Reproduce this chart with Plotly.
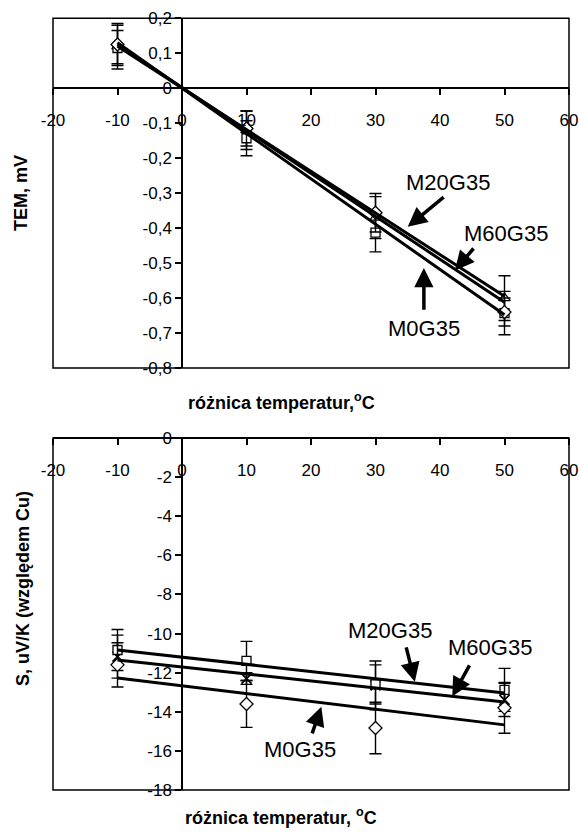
import plotly.graph_objects as go

# ---------------- data ----------------
x_temp = [-10, 10, 30, 50]

# top chart: TEM, mV
tem_m0 = [0.125, -0.115, -0.356, -0.640]
tem_m20 = [0.115, -0.143, -0.413, -0.643]
tem_m60 = [0.120, -0.120, -0.370, -0.600]
tem_err_m0 = [0.055, 0.050, 0.055, 0.040]
tem_err_m20 = [0.050, 0.050, 0.055, 0.062]
tem_err_m60 = [0.065, 0.055, 0.060, 0.064]

# bottom chart: S, uV/K
s_m0 = [-11.60, -13.60, -14.83, -13.80]
s_m20 = [-10.84, -11.40, -12.60, -12.88]
s_m60 = [-11.18, -12.30, -12.65, -13.39]
s_err_m0 = [1.13, 1.20, 1.32, 1.30]
s_err_m20 = [1.05, 1.00, 1.00, 1.10]
s_err_m60 = [1.10, 0.30, 1.25, 0.85]

# trend lines (values at x = -10 and x = 50)
trend_x = [-10, 50]
tem_fit_m0 = [0.130, -0.648]
tem_fit_m20 = [0.120, -0.595]
tem_fit_m60 = [0.125, -0.612]
s_fit_m0 = [-12.27, -14.67]
s_fit_m20 = [-10.84, -13.04]
s_fit_m60 = [-11.35, -13.50]

x_ticks = [-20, -10, 0, 10, 20, 30, 40, 50, 60]
x_ticktext = ["-20", "-10", "0", "10", "20", "30", "40", "50", "60"]
tem_ticks = [0.2, 0.1, 0, -0.1, -0.2, -0.3, -0.4, -0.5, -0.6, -0.7, -0.8]
tem_ticktext = ["0,2", "0,1", "0", "-0,1", "-0,2", "-0,3", "-0,4", "-0,5", "-0,6", "-0,7", "-0,8"]
s_ticks = [0, -2, -4, -6, -8, -10, -12, -14, -16, -18]
s_ticktext = ["0", "-2", "-4", "-6", "-8", "-10", "-12", "-14", "-16", "-18"]

x_title_top = "różnica temperatur,<sup>o</sup>C"
x_title_bot = "różnica temperatur, <sup>o</sup>C"
y_title_top = "TEM, mV"
y_title_bot = "S, uV/K (względem Cu)"

# ---------------- layout geometry ----------------
W, H = 579, 832
xd = [53 / W, 569 / W]
yd_top = [1 - 368 / H, 1 - 18.3 / H]
yd_bot = [1 - 790 / H, 1 - 438 / H]

FONT = "Liberation Sans, Arial, sans-serif"
TICKF = dict(family=FONT, size=17, color="black")

fig = go.Figure()


def add_series(xa, ya, yvals, errs, symbol, size=10, lw=1.3):
    fig.add_trace(go.Scatter(
        x=x_temp, y=yvals, mode="markers", xaxis=xa, yaxis=ya,
        marker=dict(symbol=symbol, size=size, color="white",
                    line=dict(color="black", width=lw)),
        error_y=dict(type="data", array=errs, visible=True,
                     color="black", thickness=1.4, width=6),
        showlegend=False, hoverinfo="skip"))


def add_fit(xa, ya, vals):
    fig.add_trace(go.Scatter(
        x=trend_x, y=vals, mode="lines", xaxis=xa, yaxis=ya,
        line=dict(color="black", width=3),
        showlegend=False, hoverinfo="skip"))


# top chart
add_series("x", "y", tem_m60, tem_err_m60, "triangle-up")
add_series("x", "y", tem_m20, tem_err_m20, "square", 9)
add_series("x", "y", tem_m0, tem_err_m0, "diamond")
add_fit("x", "y", tem_fit_m20)
add_fit("x", "y", tem_fit_m60)
add_fit("x", "y", tem_fit_m0)

# bottom chart
add_series("x2", "y2", s_m60, s_err_m60, "x-thin", 10, 1.8)
add_series("x2", "y2", s_m20, s_err_m20, "square", 9)
add_series("x2", "y2", s_m0, s_err_m0, "diamond")
add_fit("x2", "y2", s_fit_m20)
add_fit("x2", "y2", s_fit_m60)
add_fit("x2", "y2", s_fit_m0)

# axis crossing positions (paper fractions)
pos_x0 = xd[0] + (0 - (-20)) / 80 * (xd[1] - xd[0])
pos_top_y0 = yd_top[0] + (0 - (-0.8)) / 1.0 * (yd_top[1] - yd_top[0])
pos_bot_y0 = yd_bot[1]

common_x = dict(range=[-20, 60], tickvals=x_ticks, ticktext=x_ticktext,
                ticks="outside", ticklen=6,
                tickwidth=1.5, tickcolor="black", showline=True, linecolor="black",
                linewidth=1.5, showgrid=False, zeroline=False, tickfont=TICKF,
                ticklabelstandoff=11, domain=xd, anchor="free", side="bottom",
                automargin=False)
common_y = dict(ticks="outside", ticklen=6, tickwidth=1.5, tickcolor="black",
                showline=True, linecolor="black", linewidth=1.5, showgrid=False,
                zeroline=False, tickfont=TICKF, anchor="free", side="left",
                automargin=False)

fig.update_layout(
    template="none",
    width=W, height=H, margin=dict(l=0, r=0, t=0, b=0, pad=0),
    plot_bgcolor="white", paper_bgcolor="white",
    xaxis=dict(**common_x, position=pos_top_y0),
    yaxis=dict(**common_y, range=[-0.8, 0.2], tickvals=tem_ticks,
               ticktext=tem_ticktext, domain=yd_top, position=pos_x0),
    xaxis2=dict(**common_x, position=pos_bot_y0),
    yaxis2=dict(**common_y, range=[-18, 0], tickvals=s_ticks,
                ticktext=s_ticktext, domain=yd_bot, position=pos_x0),
)

# frames
for xr, yr in (("x", "y"), ("x2", "y2")):
    fig.add_shape(type="rect", xref=f"{xr} domain", yref=f"{yr} domain",
                  x0=0, x1=1, y0=0, y1=1, line=dict(color="black", width=1.5),
                  layer="above")

ANNF = dict(family=FONT, size=22, color="black")
TITF = dict(family=FONT, size=18, color="black")

# axis titles
title_specs = [
    (x_title_top, 281, 401, 0),
    (x_title_bot, 281, 816, 0),
    (y_title_top, 21, 193, -90),
    (y_title_bot, 23, 589, -90),
]
for txt, px, py, ang in title_specs:
    fig.add_annotation(text=f"<b>{txt}</b>", xref="paper", yref="paper",
                       x=px / W, y=1 - py / H, xanchor="center", yanchor="middle",
                       showarrow=False, textangle=ang, font=TITF)

# series labels with arrows
labels = [
    # (xref, yref, text, tx, ty, tail_x, tail_y, tip_x, tip_y)
    ("x", "y", "M20G35", 41.2, -0.27, 40.8, -0.308, 35.0, -0.396),
    ("x", "y", "M60G35", 50.3, -0.414, 45.4, -0.454, 42.3, -0.521),
    ("x", "y", "M0G35", 37.5, -0.686, 37.5, -0.638, 37.5, -0.514),
    ("x2", "y2", "M20G35", 32.2, -9.82, 34.7, -10.63, 36.1, -12.46),
    ("x2", "y2", "M60G35", 47.8, -10.7, 44.7, -11.55, 41.9, -13.22),
    ("x2", "y2", "M0G35", 18.3, -15.95, 20.1, -15.18, 21.6, -13.74),
]
for xr, yr, txt, tx, ty, ax_, ay_, px, py in labels:
    fig.add_annotation(text=txt, xref=xr, yref=yr, x=tx, y=ty,
                       xanchor="center", yanchor="middle",
                       showarrow=False, font=ANNF)
    fig.add_annotation(text="", xref=xr, yref=yr, x=px, y=py,
                       axref=xr, ayref=yr, ax=ax_, ay=ay_, showarrow=True,
                       arrowhead=2, arrowsize=1.1, arrowwidth=3.5,
                       arrowcolor="black")

fig.write_html("out.html")
